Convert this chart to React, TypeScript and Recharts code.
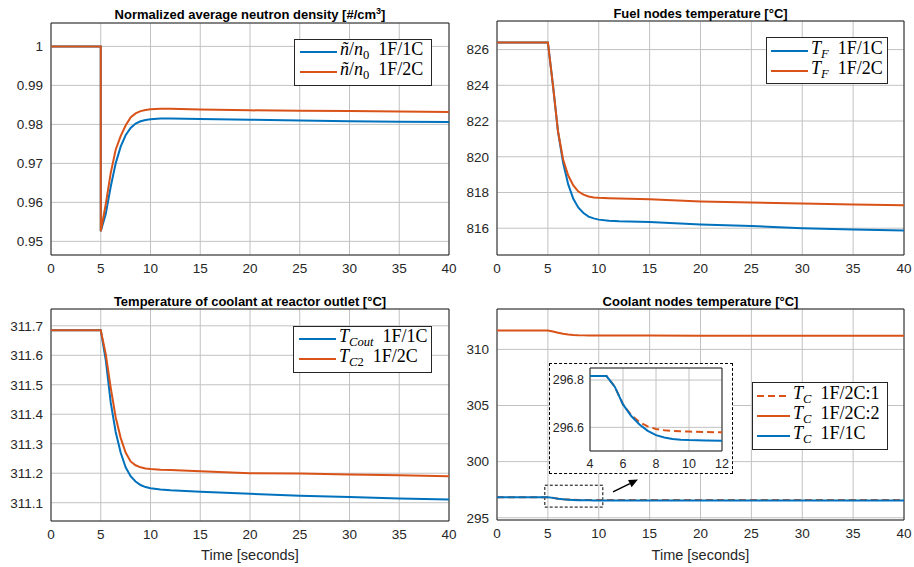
import React from 'react';
import {
  LineChart,
  Line,
  XAxis,
  YAxis,
  CartesianGrid,
  ReferenceArea,
  ReferenceLine,
  Legend,
} from 'recharts';

const BLUE = '#0072BD';
const ORANGE = '#D95319';
const AX = '#262626';
const GRID = '#c2c2c2';
const SANS = '"Liberation Sans", Arial, Helvetica, sans-serif';
const SERIF = '"Liberation Serif", "Times New Roman", serif';

// ---------- shared ticks ----------
const timeTicks = [0, 5, 10, 15, 20, 25, 30, 35, 40];

// ---------- Normalized average neutron density ----------
const nTime = [0, 5, 5, 5.5, 6, 6.5, 7, 7.5, 8, 8.5, 9, 9.5, 10, 11, 12, 15, 20, 25, 30, 35, 40];
const n1F1C = [1, 1, 0.9526, 0.957, 0.964, 0.97, 0.9743, 0.9772, 0.9791, 0.9802, 0.9808, 0.9811, 0.9813, 0.9815, 0.9815, 0.9814, 0.9812, 0.981, 0.9808, 0.9807, 0.9806];
const n1F2C = [1, 1, 0.9526, 0.9595, 0.9675, 0.9735, 0.977, 0.9797, 0.9818, 0.9828, 0.9834, 0.9837, 0.9839, 0.984, 0.984, 0.9838, 0.9836, 0.9835, 0.9834, 0.9833, 0.9832];
const nTicks = [0.95, 0.96, 0.97, 0.98, 0.99, 1];

// ---------- Fuel nodes temperature ----------
const fTime = [0, 5, 5.5, 6, 6.5, 7, 7.5, 8, 8.5, 9, 9.5, 10, 11, 12, 15, 20, 25, 30, 35, 40];
const f1F1C = [826.4, 826.4, 824.0, 821.4, 819.65, 818.45, 817.65, 817.15, 816.85, 816.65, 816.55, 816.48, 816.42, 816.39, 816.35, 816.21, 816.12, 816.0, 815.93, 815.87];
const f1F2C = [826.4, 826.4, 824.0, 821.4, 819.85, 818.95, 818.4, 818.05, 817.88, 817.78, 817.72, 817.7, 817.68, 817.66, 817.62, 817.5, 817.44, 817.38, 817.33, 817.29];
const fTicks = [816, 818, 820, 822, 824, 826];

// ---------- Coolant outlet temperature ----------
const oTime = [0, 5, 5.5, 6, 6.5, 7, 7.5, 8, 8.5, 9, 9.5, 10, 11, 12, 15, 20, 25, 30, 35, 40];
const o1F1C = [311.685, 311.685, 311.585, 311.44, 311.34, 311.27, 311.22, 311.19, 311.172, 311.16, 311.153, 311.149, 311.145, 311.142, 311.137, 311.13, 311.124, 311.119, 311.114, 311.111];
const o1F2C = [311.685, 311.685, 311.605, 311.49, 311.39, 311.32, 311.27, 311.24, 311.227, 311.22, 311.216, 311.214, 311.212, 311.211, 311.207, 311.2, 311.199, 311.196, 311.193, 311.19];
const oTicks = [311.1, 311.2, 311.3, 311.4, 311.5, 311.6, 311.7];

// ---------- Coolant nodes temperature ----------
const cTime = [0, 4, 5, 5.5, 6, 6.5, 7, 7.5, 8, 8.5, 9, 9.5, 10, 11, 12, 15, 20, 25, 30, 35, 40];
const c1F2C1 = [296.817, 296.817, 296.817, 296.772, 296.697, 296.652, 296.622, 296.604, 296.593, 296.588, 296.585, 296.583, 296.582, 296.58, 296.579, 296.579, 296.578, 296.578, 296.578, 296.577, 296.577];
const c1F2C2 = [311.69, 311.69, 311.69, 311.6, 311.49, 311.39, 311.32, 311.28, 311.26, 311.25, 311.245, 311.24, 311.24, 311.235, 311.235, 311.23, 311.225, 311.22, 311.22, 311.215, 311.21];
const c1F1C = [296.817, 296.817, 296.817, 296.772, 296.697, 296.648, 296.612, 296.585, 296.567, 296.557, 296.551, 296.548, 296.546, 296.544, 296.543, 296.542, 296.541, 296.54, 296.54, 296.539, 296.539];
const cTicks = [295, 300, 305, 310];
const insetXTicks = [4, 6, 8, 10, 12];
const insetYTicks = [296.6, 296.8];

// ---------- helpers ----------
type Row = { t: number; a: number; b: number; c?: number };
const rows = (t: number[], a: number[], b: number[], c?: number[]): Row[] =>
  t.map((x, i) => ({ t: x, a: a[i], b: b[i], c: c ? c[i] : undefined }));

const nData = rows(nTime, n1F1C, n1F2C);
const fData = rows(fTime, f1F1C, f1F2C);
const oData = rows(oTime, o1F1C, o1F2C);
const cData = rows(cTime, c1F1C, c1F2C2, c1F2C1);
const insetData = cData.filter((r) => r.t >= 4 && r.t <= 12);

type Series = { key: string; color: string; dash?: string };

const tickStyle = { fill: AX, fontSize: 13.5, fontFamily: SANS };
const insetTickStyle = { fill: AX, fontSize: 12.5, fontFamily: SANS };

const Sub = ({ children }: { children: React.ReactNode }) => (
  <span style={{ fontSize: '0.7em', verticalAlign: '-0.3em' }}>{children}</span>
);

type LegendItem = { label: React.ReactNode; color: string; dash?: string };

const LegendBox = ({ items, width, sample, pad }: { items: LegendItem[]; width: number; sample: number; pad: string }) => (
  <div
    style={{
      width,
      boxSizing: 'border-box',
      border: `1px solid ${AX}`,
      background: '#fff',
      padding: pad,
      fontFamily: SERIF,
      fontSize: 18,
      color: '#000',
      lineHeight: '20px',
    }}
  >
    {items.map((it, i) => (
      <div key={i} style={{ display: 'flex', alignItems: 'center', height: 20, whiteSpace: 'nowrap' }}>
        <svg width={sample} height={6} style={{ flex: 'none' }}>
          <line x1={0} y1={3} x2={sample} y2={3} stroke={it.color} strokeWidth={2} strokeDasharray={it.dash} />
        </svg>
        <span style={{ marginLeft: 3 }}>{it.label}</span>
      </div>
    ))}
  </div>
);

const Title = ({ left, width, top, children }: { left: number; width: number; top: number; children: React.ReactNode }) => (
  <div
    style={{
      position: 'absolute',
      left,
      top,
      width,
      textAlign: 'center',
      fontFamily: SANS,
      fontWeight: 'bold',
      fontSize: 13,
      color: '#000',
      lineHeight: '15px',
      whiteSpace: 'nowrap',
    }}
  >
    {children}
  </div>
);

type PanelProps = {
  left: number;
  top: number;
  width: number;
  height: number;
  marginTop: number;
  yWidth: number;
  xHeight: number;
  data: Row[];
  series: Series[];
  yDomain: [number, number];
  yTicks: number[];
  yFmt: (v: number) => string;
  legend?: { x: number; y: number; node: React.ReactNode };
  extra?: React.ReactNode[];
};

const Panel = (p: PanelProps) => (
  <div style={{ position: 'absolute', left: p.left, top: p.top }}>
    <LineChart width={p.width} height={p.height} data={p.data} margin={{ top: p.marginTop, right: 8, left: 0, bottom: 0 }}>
      <CartesianGrid stroke={GRID} strokeWidth={1} />
      <XAxis
        dataKey="t"
        type="number"
        domain={[0, 40]}
        ticks={timeTicks}
        interval={0}
        allowDataOverflow
        tickLine={false}
        axisLine={false}
        height={p.xHeight}
        tick={tickStyle}
      />
      <YAxis
        type="number"
        domain={p.yDomain}
        ticks={p.yTicks}
        interval={0}
        allowDataOverflow
        width={p.yWidth}
        tickFormatter={p.yFmt}
        tickLine={false}
        axisLine={false}
        tick={tickStyle}
      />
      <ReferenceArea
        x1={0}
        x2={40}
        y1={p.yDomain[0]}
        y2={p.yDomain[1]}
        fill="none"
        fillOpacity={0}
        stroke={AX}
        strokeWidth={1}
        ifOverflow="visible"
      />
      {p.series.map((s) => (
        <Line
          key={s.key}
          dataKey={s.key}
          type="linear"
          stroke={s.color}
          strokeWidth={2}
          strokeDasharray={s.dash}
          dot={false}
          activeDot={false}
          isAnimationActive={false}
          connectNulls
        />
      ))}
      {p.extra}
      {p.legend ? (
        <Legend
          layout="vertical"
          align="center"
          verticalAlign="middle"
          wrapperStyle={{ left: p.legend.x, top: p.legend.y, width: 'auto', height: 'auto' }}
          content={() => p.legend!.node}
        />
      ) : null}
    </LineChart>
  </div>
);

const Arrow = (props: any) => {
  const { x1, y1, x2, y2 } = props;
  const ang = Math.atan2(y2 - y1, x2 - x1);
  const L = 9;
  const w = 4;
  const bx = x2 - L * Math.cos(ang);
  const by = y2 - L * Math.sin(ang);
  const pts = `${x2},${y2} ${bx + w * Math.sin(ang)},${by - w * Math.cos(ang)} ${bx - w * Math.sin(ang)},${by + w * Math.cos(ang)}`;
  return (
    <g>
      <line x1={x1} y1={y1} x2={bx} y2={by} stroke="#000" strokeWidth={1.5} />
      <polygon points={pts} fill="#000" />
    </g>
  );
};

const fmt2 = (v: number) => (v === 1 ? '1' : v.toFixed(2));
const fmt0 = (v: number) => String(v);
const fmt1 = (v: number) => v.toFixed(1);

export default function App() {
  const blueOrange: Series[] = [
    { key: 'a', color: BLUE },
    { key: 'b', color: ORANGE },
  ];
  const coolantSeries: Series[] = [
    { key: 'c', color: ORANGE, dash: '7 4' },
    { key: 'b', color: ORANGE },
    { key: 'a', color: BLUE },
  ];

  return (
    <div style={{ position: 'absolute', left: 0, top: 0, width: 914, height: 567, background: '#fff', overflow: 'hidden' }}>
      {/* Top-left */}
      <Panel
        left={0}
        top={0}
        width={457}
        height={280}
        marginTop={23}
        yWidth={51}
        xHeight={25}
        data={nData}
        series={blueOrange}
        yDomain={[0.9465, 1.006]}
        yTicks={nTicks}
        yFmt={fmt2}
        legend={{
          x: 294,
          y: 39,
          node: (
            <LegendBox
              width={138}
              sample={37}
              pad="2px 4px 3px 5px"
              items={[
                { color: BLUE, label: <span><i>ñ</i>/<i>n</i><Sub>0</Sub>&nbsp; 1F/1C</span> },
                { color: ORANGE, label: <span><i>ñ</i>/<i>n</i><Sub>0</Sub>&nbsp; 1F/2C</span> },
              ]}
            />
          ),
        }}
      />
      <Title left={51} width={398} top={7}>
        Normalized average neutron density [#/cm<sup style={{ fontSize: 9, lineHeight: 0 }}>3</sup>]
      </Title>

      {/* Top-right */}
      <Panel
        left={455}
        top={0}
        width={457}
        height={280}
        marginTop={21}
        yWidth={42}
        xHeight={25}
        data={fData}
        series={blueOrange}
        yDomain={[814.5, 827.6]}
        yTicks={fTicks}
        yFmt={fmt0}
        legend={{
          x: 311,
          y: 37,
          node: (
            <LegendBox
              width={122}
              sample={37}
              pad="3px 4px 2px 4px"
              items={[
                { color: BLUE, label: <span><i>T</i><Sub><i>F</i></Sub>&nbsp; 1F/1C</span> },
                { color: ORANGE, label: <span><i>T</i><Sub><i>F</i></Sub>&nbsp; 1F/2C</span> },
              ]}
            />
          ),
        }}
      />
      <Title left={497} width={407} top={6}>
        Fuel nodes temperature [°C]
      </Title>

      {/* Bottom-left */}
      <Panel
        left={0}
        top={280}
        width={457}
        height={287}
        marginTop={29}
        yWidth={51}
        xHeight={46}
        data={oData}
        series={blueOrange}
        yDomain={[311.038, 311.757]}
        yTicks={oTicks}
        yFmt={fmt1}
        legend={{
          x: 293,
          y: 46,
          node: (
            <LegendBox
              width={139}
              sample={37}
              pad="2px 4px 3px 5px"
              items={[
                { color: BLUE, label: <span><i>T</i><Sub><i>Cout</i></Sub>&nbsp; 1F/1C</span> },
                { color: ORANGE, label: <span><i>T</i><Sub><i>C</i>2</Sub>&nbsp; 1F/2C</span> },
              ]}
            />
          ),
        }}
      />
      <Title left={51} width={398} top={294}>
        Temperature of coolant at reactor outlet [°C]
      </Title>

      {/* Bottom-right */}
      <Panel
        left={455}
        top={280}
        width={457}
        height={287}
        marginTop={29}
        yWidth={42}
        xHeight={47}
        data={cData}
        series={coolantSeries}
        yDomain={[294.8, 313.6]}
        yTicks={cTicks}
        yFmt={fmt0}
        extra={[
          <ReferenceArea
            key="zoombox"
            x1={4.7}
            x2={10.4}
            y1={295.95}
            y2={297.9}
            fill="none"
            fillOpacity={0}
            stroke="#000"
            strokeWidth={1}
            strokeDasharray="3 2"
            ifOverflow="visible"
          />,
          <ReferenceLine
            key="arrow"
            segment={[
              { x: 11.4, y: 297.3 },
              { x: 13.85, y: 298.4 },
            ]}
            ifOverflow="visible"
            shape={Arrow}
          />,
        ]}
        legend={{
          x: 297,
          y: 102,
          node: (
            <LegendBox
              width={136}
              sample={33}
              pad="3px 4px 3px 4px"
              items={[
                { color: ORANGE, dash: '7 4', label: <span><i>T</i><Sub><i>C</i></Sub>&nbsp; 1F/2C:1</span> },
                { color: ORANGE, label: <span><i>T</i><Sub><i>C</i></Sub>&nbsp; 1F/2C:2</span> },
                { color: BLUE, label: <span><i>T</i><Sub><i>C</i></Sub>&nbsp; 1F/1C</span> },
              ]}
            />
          ),
        }}
      />
      <Title left={497} width={407} top={294}>
        Coolant nodes temperature [°C]
      </Title>

      {/* Inset */}
      <div
        style={{
          position: 'absolute',
          left: 549,
          top: 363,
          width: 184,
          height: 111,
          boxSizing: 'border-box',
          border: '1.5px dashed #000',
          background: '#fff',
        }}
      >
        <LineChart width={181} height={108} data={insetData} margin={{ top: 4, right: 9, left: 0, bottom: 0 }}>
          <CartesianGrid stroke={GRID} strokeWidth={1} />
          <XAxis
            dataKey="t"
            type="number"
            domain={[4, 12]}
            ticks={insetXTicks}
            interval={0}
            allowDataOverflow
            tickLine={false}
            axisLine={false}
            height={21}
            tick={insetTickStyle}
          />
          <YAxis
            type="number"
            domain={[296.5, 296.851]}
            ticks={insetYTicks}
            interval={0}
            allowDataOverflow
            width={40}
            tickMargin={1}
            tickSize={5}
            tickFormatter={fmt1}
            tickLine={false}
            axisLine={false}
            tick={insetTickStyle}
          />
          <ReferenceArea
            x1={4}
            x2={12}
            y1={296.5}
            y2={296.851}
            fill="none"
            fillOpacity={0}
            stroke={AX}
            strokeWidth={1}
            ifOverflow="visible"
          />
          <Line dataKey="c" type="linear" stroke={ORANGE} strokeWidth={2} strokeDasharray="7 4" dot={false} activeDot={false} isAnimationActive={false} />
          <Line dataKey="a" type="linear" stroke={BLUE} strokeWidth={2} dot={false} activeDot={false} isAnimationActive={false} />
        </LineChart>
      </div>

      {/* X axis labels */}
      <div style={{ position: 'absolute', left: 51, width: 398, top: 547, textAlign: 'center', fontFamily: SANS, fontSize: 14.5, color: AX, lineHeight: '17px' }}>
        Time [seconds]
      </div>
      <div style={{ position: 'absolute', left: 497, width: 407, top: 547, textAlign: 'center', fontFamily: SANS, fontSize: 14.5, color: AX, lineHeight: '17px' }}>
        Time [seconds]
      </div>
    </div>
  );
}
